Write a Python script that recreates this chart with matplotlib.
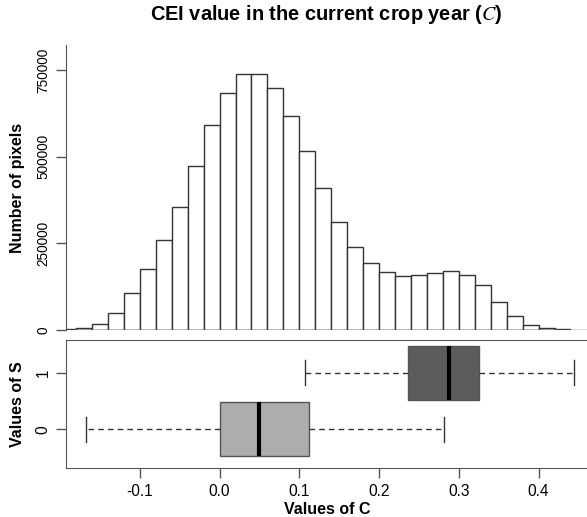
import numpy as np
import matplotlib
matplotlib.use("Agg")
import matplotlib.pyplot as plt

plt.rcParams["font.family"] = ["Liberation Sans", "DejaVu Sans"]
plt.rcParams["mathtext.fontset"] = "stix"

# histogram of C (bins of 0.02 from -0.2 to 0.44)
bin_start = -0.2
bin_width = 0.02
pixel_counts = [3000, 6600, 18300, 49000, 105800, 176900, 258700, 355800,
                474000, 591300, 683600, 737500, 737500, 697000, 618100, 517300,
                410000, 312500, 240400, 193300, 167300, 154800, 157700, 163500,
                169300, 159600, 128900, 81700, 39400, 15400, 5800, 2000]

# boxplot summary of C by S
s_groups = ["0", "1"]
box_q1 = [0.000, 0.236]
box_med = [0.050, 0.288]
box_q3 = [0.112, 0.325]
box_lo = [-0.167, 0.107]
box_hi = [0.281, 0.444]
box_colors = ["#adadad", "#5c5c5c"]

y_ticks = [0, 250000, 500000, 750000]
x_ticks = [-0.1, 0.0, 0.1, 0.2, 0.3, 0.4]

W, H = 587, 517
fig = plt.figure(figsize=(W / 100, H / 100), dpi=100)


def px_axes(left, top, right, bottom):
    return fig.add_axes([left / W, 1 - bottom / H, (right - left) / W, (bottom - top) / H])


xlim = (-0.1926, 0.464)
edge = "#333333"
frame = "#555555"

# ---- histogram panel ----
ax1 = px_axes(66, 45, 589.6, 330)
lefts = bin_start + bin_width * np.arange(len(pixel_counts))
ax1.bar(lefts, pixel_counts, width=bin_width, align="edge",
        facecolor="white", edgecolor=edge, linewidth=1)
ax1.axhline(0, color=frame, lw=1)
ax1.set_xlim(*xlim)
ax1.set_ylim(0, 822000)
for s in ["top", "right", "bottom"]:
    ax1.spines[s].set_visible(False)
ax1.spines["left"].set_color(frame)
ax1.set_xticks([])
ax1.set_yticks(y_ticks)
ax1.set_yticklabels([str(v) for v in y_ticks], rotation=90, va="center")
ax1.tick_params(axis="y", length=7, width=1, color=frame, labelsize=9.8, pad=4)

# ---- boxplot panel ----
ax2 = px_axes(66, 340, 589.6, 468.3)
stats = []
for i in range(len(s_groups)):
    stats.append({"med": box_med[i], "q1": box_q1[i], "q3": box_q3[i],
                  "whislo": box_lo[i], "whishi": box_hi[i], "fliers": []})
bp = ax2.bxp(stats, positions=[0, 1], widths=0.95, orientation="horizontal",
             patch_artist=True, showfliers=False, capwidths=0.45,
             boxprops=dict(edgecolor=frame, linewidth=1),
             medianprops=dict(color="black", linewidth=3),
             whiskerprops=dict(color=edge, linewidth=1, linestyle=(0, (4, 3))),
             capprops=dict(color=edge, linewidth=1))
for patch, c in zip(bp["boxes"], box_colors):
    patch.set_facecolor(c)
ax2.set_xlim(*xlim)
ax2.set_ylim(-0.689, 1.578)
ax2.set_yticks([0, 1])
ax2.set_yticklabels(s_groups, rotation=90, va="center")
ax2.set_xticks(x_ticks)
ax2.set_xticklabels(["%.1f" % v for v in x_ticks])
for s in ax2.spines.values():
    s.set_color(frame)
ax2.tick_params(length=7, width=1, color=frame, labelsize=11.2, pad=4)

# ---- labels ----
fig.text(326 / W, 1 - 15 / H, r"CEI value in the current crop year ($C$)",
         ha="center", va="center", fontsize=14.4, fontweight="bold")
fig.text(18 / W, 1 - 187.5 / H, "Number of pixels", rotation=90,
         ha="center", va="center", fontsize=11.5, fontweight="bold")
fig.text(18 / W, 1 - 404 / H, "Values of S", rotation=90,
         ha="center", va="center", fontsize=11.5, fontweight="bold")
fig.text(327 / W, 1 - 509 / H, "Values of C",
         ha="center", va="center", fontsize=11.5, fontweight="bold")

fig.savefig("out.png", dpi=100)
